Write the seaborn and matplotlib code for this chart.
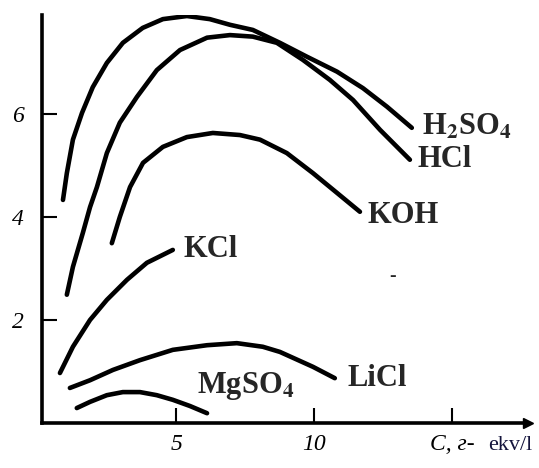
import pandas as pd
import matplotlib
matplotlib.use("Agg")
import matplotlib.pyplot as plt
import seaborn as sns

# values (C in g-ekv/l, conductivity on y)
h2so4_c = [0.89, 1.03, 1.25, 1.58, 1.97, 2.48, 3.06, 3.78, 4.51, 5.38, 6.21, 6.94,
           7.77, 8.75, 9.73, 10.82, 11.76, 12.63, 13.53]
h2so4_k = [4.33, 4.85, 5.50, 6.02, 6.52, 6.99, 7.38, 7.67, 7.84, 7.90, 7.84, 7.73,
           7.63, 7.38, 7.11, 6.82, 6.50, 6.14, 5.73]

hcl_c = [1.03, 1.25, 1.61, 1.87, 2.12, 2.48, 2.95, 3.57, 4.29, 5.13, 6.11, 6.94,
         7.77, 8.64, 9.58, 10.56, 11.40, 12.38, 13.46]
hcl_k = [2.49, 3.03, 3.69, 4.19, 4.58, 5.24, 5.83, 6.33, 6.85, 7.24, 7.48, 7.53,
         7.50, 7.38, 7.05, 6.66, 6.27, 5.69, 5.11]

koh_c = [2.66, 2.95, 3.32, 3.79, 4.51, 5.38, 6.32, 7.30, 8.03, 9.00, 9.95, 11.65]
koh_k = [3.49, 4.00, 4.58, 5.05, 5.36, 5.55, 5.63, 5.59, 5.50, 5.24, 4.85, 4.10]

kcl_c = [0.78, 1.25, 1.87, 2.48, 3.21, 3.93, 4.87]
kcl_k = [0.97, 1.48, 2.00, 2.39, 2.78, 3.11, 3.36]

licl_c = [1.14, 1.87, 2.70, 3.68, 4.87, 6.11, 7.19, 8.13, 8.75, 9.95, 10.74]
licl_k = [0.68, 0.83, 1.03, 1.22, 1.42, 1.51, 1.55, 1.48, 1.38, 1.09, 0.87]

mgso4_c = [1.39, 1.87, 2.48, 3.06, 3.68, 4.29, 4.87, 5.49, 6.11]
mgso4_k = [0.29, 0.41, 0.54, 0.60, 0.60, 0.54, 0.45, 0.33, 0.19]

y_ticks = [2, 4, 6]
x_ticks = [5, 10, 15]
x_tick_labels = ["5", "10", "C, г-"]

series = {
    "H2SO4": (h2so4_c, h2so4_k),
    "HCl": (hcl_c, hcl_k),
    "KOH": (koh_c, koh_k),
    "KCl": (kcl_c, kcl_k),
    "LiCl": (licl_c, licl_k),
    "MgSO4": (mgso4_c, mgso4_k),
}

rows = []
for name, (cs, ks) in series.items():
    for i, (c, k) in enumerate(zip(cs, ks)):
        rows.append({"name": name, "order": i, "C": c, "k": k})
df = pd.DataFrame(rows)

sns.set_style("white")
plt.rcParams["font.family"] = ["Liberation Serif", "DejaVu Serif"]
plt.rcParams["mathtext.fontset"] = "stix"

fig = plt.figure(figsize=(5.39, 4.68), dpi=100)
ax = fig.add_axes([42 / 539, 45 / 468, 486 / 539, 408 / 468])

sns.lineplot(data=df, x="C", y="k", hue="name", units="name", estimator=None,
             sort=False, palette=["black"] * len(series), linewidth=3.3,
             legend=False, ax=ax, solid_capstyle="round", solid_joinstyle="round")

ax.set_xlim(0.13, 17.74)
ax.set_ylim(0, 7.92)

for side in ["top", "right"]:
    ax.spines[side].set_visible(False)
for side in ["left", "bottom"]:
    ax.spines[side].set_linewidth(2.6)
    ax.spines[side].set_color("black")

ax.plot(1, 0, ">k", markersize=7, transform=ax.transAxes, clip_on=False)

ax.set_xticks(x_ticks)
ax.set_xticklabels(x_tick_labels)
ax.set_yticks(y_ticks)
ax.set_yticklabels([str(t) for t in y_ticks])
ax.tick_params(bottom=True, left=True, direction="in", length=11, width=1.5,
               labelsize=17, colors="black")
ax.tick_params(axis="y", pad=13)
ax.tick_params(axis="x", pad=8)
for lab in ax.get_xticklabels() + ax.get_yticklabels():
    lab.set_fontstyle("italic")
ax.set_xlabel("")
ax.set_ylabel("")

fig.text(510 / 539, 1 - 445 / 468, "ekv/l", fontsize=16, color="#14143c",
         ha="center", va="center", family=["Liberation Serif"])

lab_kw = dict(fontsize=22, fontweight="bold", va="center", ha="left")
ax.text(13.9, 5.75, "H$_\\mathbf{2}$SO$_\\mathbf{4}$", **lab_kw)
ax.text(13.75, 5.12, "HCl", **lab_kw)
ax.text(11.94, 4.03, "KOH", **lab_kw)
ax.text(5.27, 3.36, "KCl", **lab_kw)
ax.text(11.2, 0.87, "LiCl", **lab_kw)
ax.text(5.74, 0.72, "MgSO$_\\mathbf{4}$", **lab_kw)
ax.text(12.85, 2.85, "-", fontsize=14, fontweight="bold", ha="center", va="center")

fig.savefig("out.png", dpi=100, facecolor="white")
